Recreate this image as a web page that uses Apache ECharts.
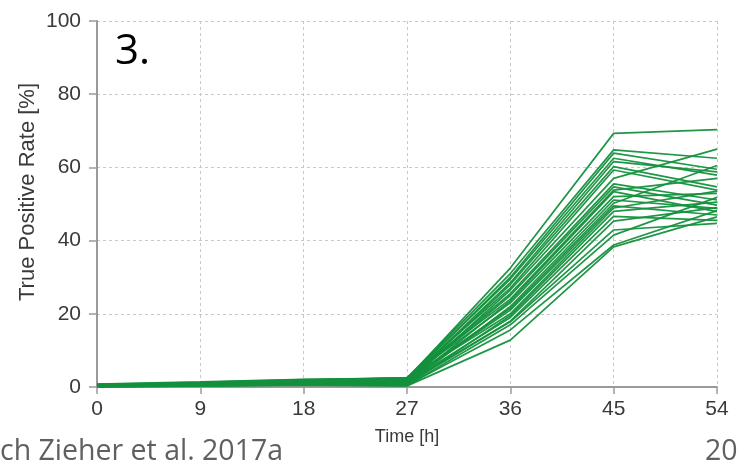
<!DOCTYPE html>
<html>
<head>
<meta charset="utf-8">
<script src="https://cdn.jsdelivr.net/npm/echarts@6/dist/echarts.min.js"></script>
<style>
  html, body { margin: 0; padding: 0; background: #ffffff; }
  #chart { width: 742px; height: 462px; }
</style>
</head>
<body>
<div id="chart"></div>
<script>
// Sampling times (hours)
const times = [0, 9, 18, 27, 36, 45, 54];
const xTicks = [0, 9, 18, 27, 36, 45, 54];
const yTicks = [0, 20, 40, 60, 80, 100];

// True positive rate [%] per run at each sampling time
const run01 = [0.5, 1.0, 1.6, 2.2, 32.5, 69.3, 70.3];
const run02 = [0.6, 1.2, 1.9, 2.5, 31.0, 64.8, 62.5];
const run03 = [0.3, 0.8, 1.4, 2.0, 30.0, 63.9, 59.5];
const run04 = [0.7, 1.3, 2.0, 2.4, 29.5, 62.5, 57.9];
const run05 = [0.4, 0.9, 1.5, 1.8, 28.5, 61.6, 58.8];
const run06 = [0.2, 0.7, 1.2, 1.5, 28.0, 60.2, 54.7];
const run07 = [0.5, 1.1, 1.7, 2.3, 27.0, 59.3, 53.8];
const run08 = [0.1, 0.5, 1.0, 1.2, 26.5, 57.0, 65.0];
const run09 = [0.6, 1.0, 1.8, 2.1, 25.5, 55.5, 51.1];
const run10 = [0.3, 0.6, 1.1, 1.6, 25.0, 54.7, 49.7];
const run11 = [0.4, 1.2, 1.6, 2.6, 24.0, 53.8, 57.0];
const run12 = [0.2, 0.4, 0.9, 1.0, 23.5, 53.4, 47.9];
const run13 = [0.8, 1.4, 2.1, 2.4, 23.0, 52.0, 52.9];
const run14 = [0.0, 0.3, 0.7, 0.8, 22.0, 51.1, 48.8];
const run15 = [0.5, 0.9, 1.3, 1.9, 21.5, 50.2, 60.5];
const run16 = [0.3, 0.8, 1.5, 1.7, 21.0, 49.5, 47.0];
const run17 = [0.6, 1.1, 1.8, 2.2, 20.0, 48.9, 53.5];
const run18 = [0.1, 0.4, 0.8, 0.6, 19.5, 48.0, 50.5];
const run19 = [0.4, 0.7, 1.2, 1.4, 19.0, 46.6, 45.5];
const run20 = [0.2, 0.6, 1.0, 1.1, 18.0, 45.3, 49.0];
const run21 = [0.7, 1.0, 1.4, 0.9, 17.8, 42.9, 44.7];
const run22 = [0.0, 0.2, 0.5, 0.4, 17.0, 41.5, 51.8];
const run23 = [0.3, 0.5, 0.9, 0.5, 15.6, 38.8, 48.2];
const run24 = [0.1, 0.3, 0.6, 0.3, 12.8, 38.3, 46.5];

const runs = [run01, run02, run03, run04, run05, run06, run07, run08,
              run09, run10, run11, run12, run13, run14, run15, run16,
              run17, run18, run19, run20, run21, run22, run23, run24];

const chart = echarts.init(document.getElementById('chart'), null, { renderer: 'canvas' });

const lineSeries = runs.map((vals, i) => ({
  type: 'line',
  name: 'run' + (i + 1),
  data: times.map((t, k) => [t, vals[k]]),
  symbol: 'none',
  silent: true,
  lineStyle: { color: '#14903d', width: 1.7, opacity: 0.95 },
  z: 3
}));

const tickFont = { fontFamily: 'Liberation Sans, Arial, sans-serif', fontSize: 21, color: '#3a3a3a' };

chart.setOption({
  animation: false,
  backgroundColor: '#ffffff',
  grid: { left: 97, right: 25, top: 21, bottom: 75, containLabel: false },
  xAxis: {
    type: 'value',
    min: xTicks[0],
    max: xTicks[xTicks.length - 1],
    interval: 9,
    axisLine: { show: true, lineStyle: { color: '#9a9a9a', width: 2 } },
    axisTick: { show: true, length: 7, lineStyle: { color: '#9a9a9a', width: 1.5 } },
    axisLabel: Object.assign({ margin: 12 }, tickFont),
    splitLine: { show: true, lineStyle: { color: '#c8c8c8', type: [3, 3], width: 1 } }
  },
  yAxis: {
    type: 'value',
    min: yTicks[0],
    max: yTicks[yTicks.length - 1],
    interval: 20,
    axisLine: { show: true, lineStyle: { color: '#9a9a9a', width: 2 } },
    axisTick: { show: true, length: 8, lineStyle: { color: '#9a9a9a', width: 1.5 } },
    axisLabel: Object.assign({ margin: 16 }, tickFont),
    splitLine: { show: true, lineStyle: { color: '#c8c8c8', type: [3, 3], width: 1 } }
  },
  graphic: [
    {
      type: 'text', left: 115, top: 31, z: 10,
      style: { text: '3.', font: '42px "Open Sans", sans-serif', fill: '#000000' }
    },
    {
      type: 'text', x: 407, y: 437, z: 10,
      style: { text: 'Time [h]', font: '18px "Liberation Sans", Arial, sans-serif', fill: '#3a3a3a', textAlign: 'center', textVerticalAlign: 'middle' }
    },
    {
      type: 'text', x: 28, y: 192, rotation: Math.PI / 2, z: 10,
      style: { text: 'True Positive Rate [%]', font: '22px "Liberation Sans", Arial, sans-serif', fill: '#3a3a3a', textAlign: 'center', textVerticalAlign: 'middle' }
    },
    {
      type: 'text', x: 0, y: 452, z: 10,
      style: { text: 'ch Zieher et al. 2017a', font: '28.5px "Open Sans", sans-serif', fill: '#606060', textVerticalAlign: 'middle' }
    },
    {
      type: 'text', x: 705, y: 452, z: 10,
      style: { text: '20', font: '28.5px "Open Sans", sans-serif', fill: '#606060', textVerticalAlign: 'middle' }
    }
  ],
  series: lineSeries
});
</script>
</body>
</html>
